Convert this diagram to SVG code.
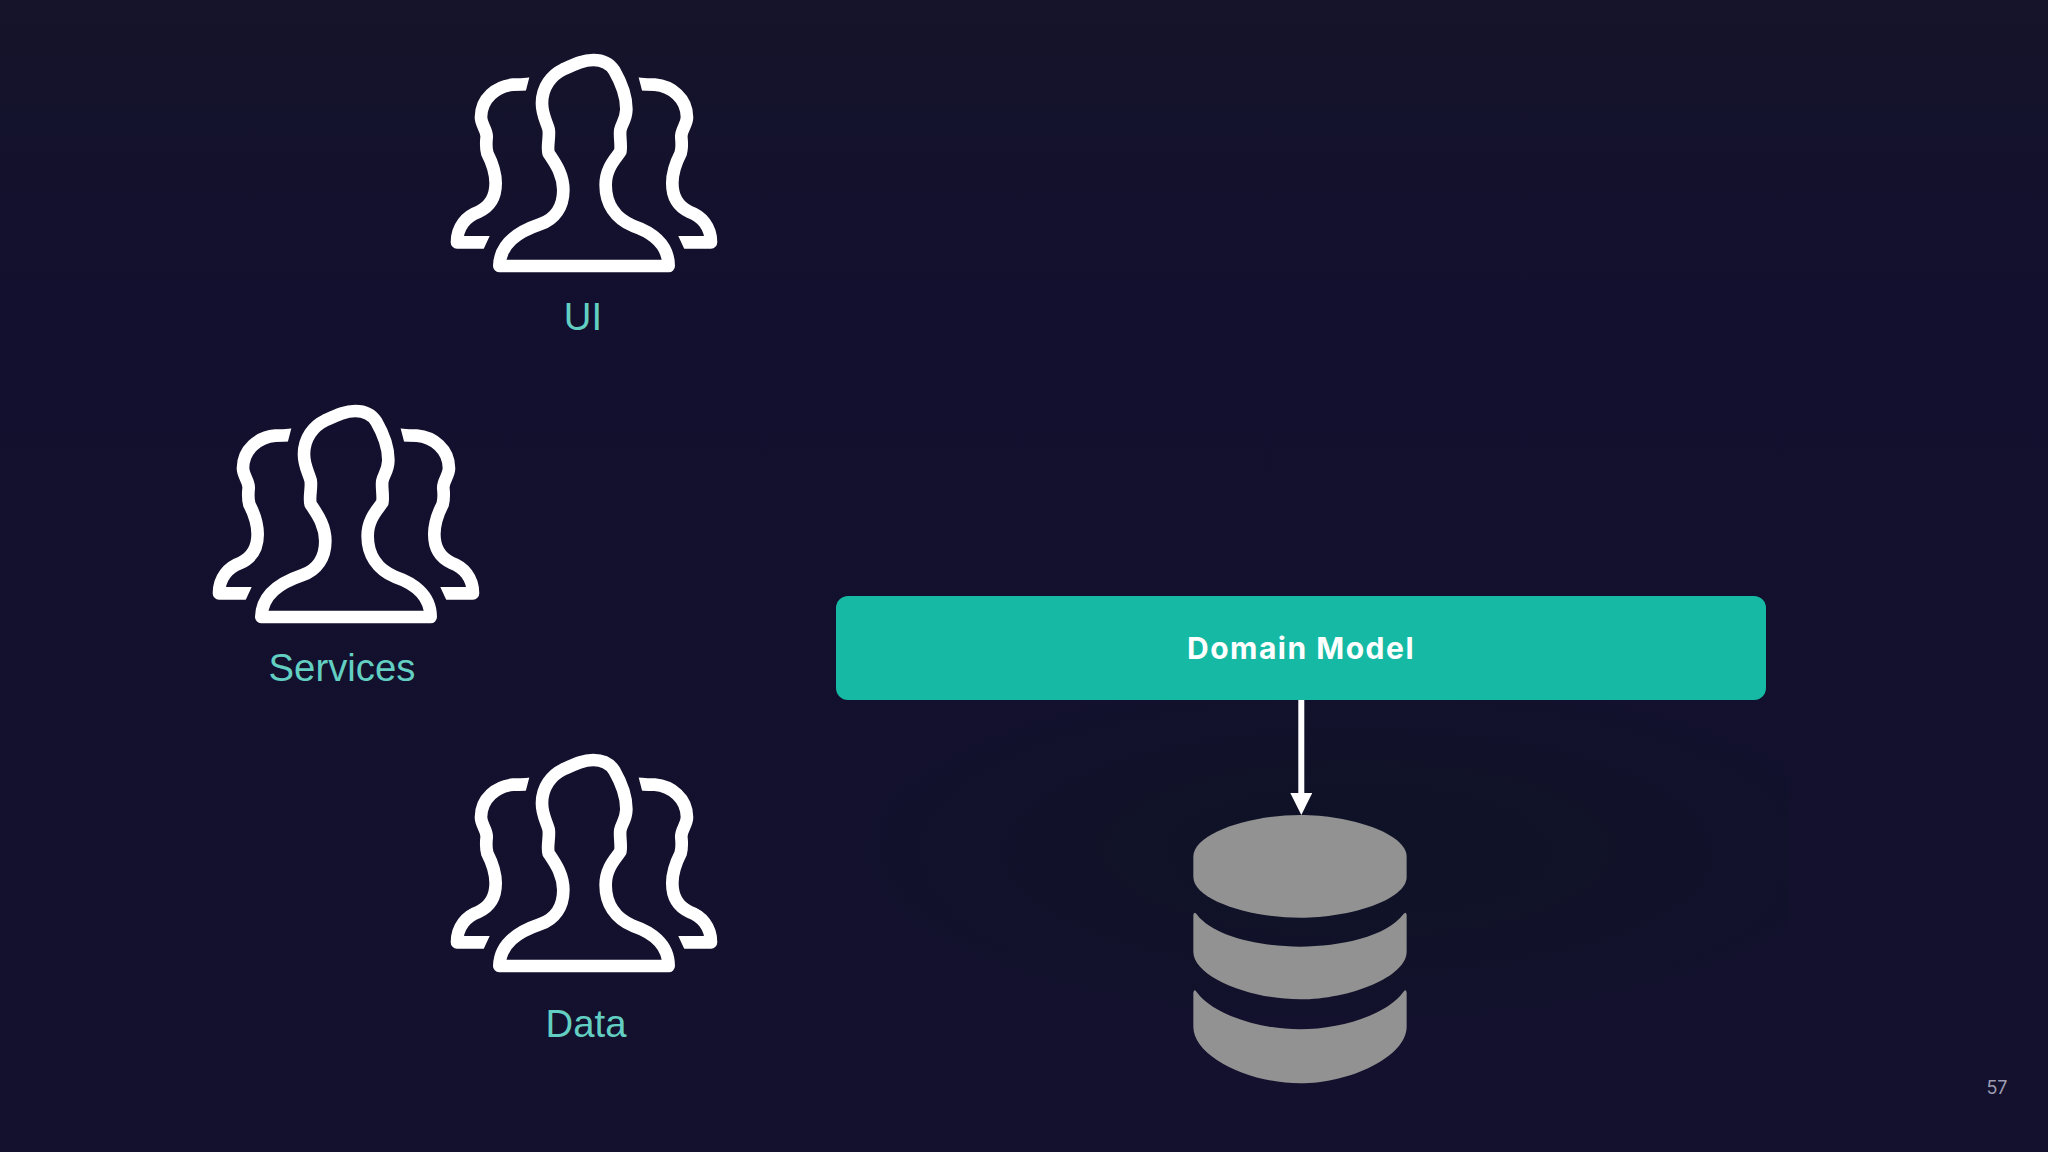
<svg xmlns="http://www.w3.org/2000/svg" xmlns:xlink="http://www.w3.org/1999/xlink" width="2048" height="1152" viewBox="0 0 2048 1152">
<style>
.label{font-family:"Liberation Sans",Arial,sans-serif;font-size:38.3px;fill:#62cfc2;text-anchor:middle}
.outline{fill:none;stroke:#fff;stroke-width:38;stroke-linejoin:round;stroke-linecap:butt}
.disk{fill:#929292}
</style>
<defs>
<linearGradient id="bg" x1="0" y1="0" x2="0" y2="1"><stop offset="0" stop-color="#15142a"/><stop offset="0.25" stop-color="#12102e"/><stop offset="1" stop-color="#13112d"/></linearGradient>
<radialGradient id="shade" cx="0.55" cy="0.45" r="0.55"><stop offset="0" stop-color="#0c1520" stop-opacity="0.55"/><stop offset="0.6" stop-color="#0c1520" stop-opacity="0.3"/><stop offset="1" stop-color="#0c1520" stop-opacity="0"/></radialGradient>
<clipPath id="sideClip"><polygon points="0,0 327,0 283,170 283,500 185,575 155,640 0,640"/></clipPath>
<marker id="arrow" markerUnits="userSpaceOnUse" markerWidth="22" markerHeight="22" refX="0" refY="11" orient="auto"><path d="M0 0L22 11L0 22Z" fill="#fff"/></marker>
<g id="side" clip-path="url(#sideClip)"><path class="outline" d="M320 128 C300 134 275 134 250 134 C200 138 153 175 153 232 C153 255 172 270 170 292 C168 310 168 325 172 340 C185 365 197 395 197 430 C197 470 180 500 145 516 C110 528 81 560 81 607 H200"/></g>
<g id="people" transform="translate(430,40) scale(0.3333)">
<path class="outline" d="M208 678 H716 C716 610 660 575 610 558 C555 535 527 490 527 435 C527 385 555 358 571 335 C575 315 568 290 571 270 C575 250 588 240 589 210 C590 170 572 125 553 92 C538 68 515 60 490 60 C460 60 435 72 400 88 C365 105 336 140 336 190 C336 225 350 245 356 268 C360 290 350 320 356 340 C372 365 400 400 400 450 C400 500 375 538 330 553 C265 575 210 610 208 678 Z"/>
<use xlink:href="#side" href="#side"/>
<use xlink:href="#side" href="#side" transform="translate(924,0) scale(-1,1)"/>
</g>
</defs>
<rect id="background" width="2048" height="1152" fill="url(#bg)"/>
<rect x="830" y="700" width="960" height="330" fill="url(#shade)"/>
<g id="node-ui"><use href="#people" xlink:href="#people"/><text class="label" x="583" y="330">UI</text></g>
<g id="node-services"><use href="#people" xlink:href="#people" x="-238" y="351"/><text class="label" x="342" y="681">Services</text></g>
<g id="node-data"><use href="#people" xlink:href="#people" y="700"/><text class="label" x="586" y="1037">Data</text></g>
<g id="node-domain-model"><rect x="836" y="596" width="930" height="104" rx="12" fill="#16baa4"/><text x="1301" y="659" font-family="Inter,'Open Sans',sans-serif" font-weight="700" font-size="30" letter-spacing="1.5" fill="#fff" text-anchor="middle">Domain Model</text></g>
<g id="node-database" transform="translate(1160,680) scale(0.3333)">
<path class="disk" d="M100 530 C100 460 270 405 420 405 C570 405 740 460 740 530 V590 C740 660 570 713 420 713 C270 713 100 660 100 590 Z"/>
<path class="disk" d="M100 705 Q103 692 110 703 C160 770 300 800 420 800 C540 800 680 770 730 703 Q738 692 740 705 V815 C740 890 570 958 420 958 C270 958 100 890 100 815 Z"/>
<path class="disk" d="M100 938 Q103 925 110 936 C160 1005 300 1048 420 1048 C540 1048 680 1005 730 936 Q738 925 740 938 V1040 C740 1130 570 1210 420 1210 C270 1210 100 1130 100 1040 Z"/>
</g>
<g id="connectors"><line x1="1301.3" y1="700" x2="1301.3" y2="793" stroke="#fff" stroke-width="6" marker-end="url(#arrow)"/></g>
<text id="page-number" x="1997" y="1094" font-family="Inter,sans-serif" font-size="18" fill="#9c9cb2" text-anchor="middle">57</text>
</svg>
